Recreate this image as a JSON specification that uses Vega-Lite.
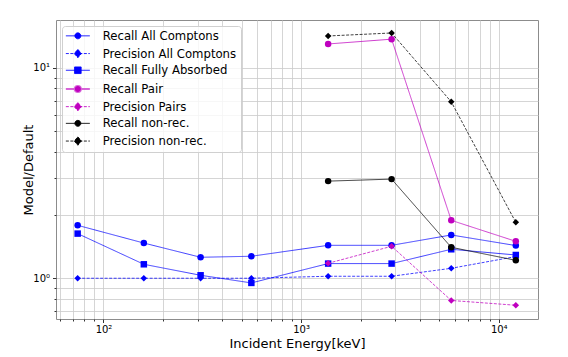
{
  "$schema": "https://vega.github.io/schema/vega-lite/v6.json",
  "autosize": {"type": "none"},
  "padding": {"left": 56, "top": 20, "right": 30, "bottom": 38},
  "width": 482,
  "height": 299,
  "background": "white",
  "config": {
    "font": "DejaVu Sans",
    "view": {"stroke": "#8c8c8c", "strokeWidth": 1},
    "axis": {
      "labelFont": "DejaVu Sans",
      "titleFont": "DejaVu Sans",
      "labelColor": "#000",
      "titleColor": "#000",
      "titleFontWeight": "normal",
      "titleFontSize": 13,
      "labelFontSize": 10,
      "domain": false,
      "grid": true,
      "gridColor": "#cacaca",
      "gridWidth": 0.8,
      "tickColor": "#000",
      "tickWidth": 0.8,
      "labelOverlap": false,
      "labelFlush": false,
      "labelBound": false
    }
  },
  "data": {
    "values": [
      {"series": "Recall All Comptons", "energy": 74, "ratio": 1.785},
      {"series": "Recall All Comptons", "energy": 160, "ratio": 1.47},
      {"series": "Recall All Comptons", "energy": 310, "ratio": 1.258},
      {"series": "Recall All Comptons", "energy": 560, "ratio": 1.272},
      {"series": "Recall All Comptons", "energy": 1370, "ratio": 1.434},
      {"series": "Recall All Comptons", "energy": 2870, "ratio": 1.434},
      {"series": "Recall All Comptons", "energy": 5750, "ratio": 1.606},
      {"series": "Recall All Comptons", "energy": 12200, "ratio": 1.43},
      {"series": "Precision All Comptons", "energy": 74, "ratio": 1.0},
      {"series": "Precision All Comptons", "energy": 160, "ratio": 1.0},
      {"series": "Precision All Comptons", "energy": 310, "ratio": 1.0},
      {"series": "Precision All Comptons", "energy": 560, "ratio": 1.0},
      {"series": "Precision All Comptons", "energy": 1370, "ratio": 1.022},
      {"series": "Precision All Comptons", "energy": 2870, "ratio": 1.022},
      {"series": "Precision All Comptons", "energy": 5750, "ratio": 1.115},
      {"series": "Precision All Comptons", "energy": 12200, "ratio": 1.268},
      {"series": "Recall Fully Absorbed", "energy": 74, "ratio": 1.63},
      {"series": "Recall Fully Absorbed", "energy": 160, "ratio": 1.165},
      {"series": "Recall Fully Absorbed", "energy": 310, "ratio": 1.033},
      {"series": "Recall Fully Absorbed", "energy": 560, "ratio": 0.95},
      {"series": "Recall Fully Absorbed", "energy": 1370, "ratio": 1.174},
      {"series": "Recall Fully Absorbed", "energy": 2870, "ratio": 1.174},
      {"series": "Recall Fully Absorbed", "energy": 5750, "ratio": 1.373},
      {"series": "Recall Fully Absorbed", "energy": 12200, "ratio": 1.29},
      {"series": "Recall Pair", "energy": 1370, "ratio": 13.0},
      {"series": "Recall Pair", "energy": 2870, "ratio": 13.7},
      {"series": "Recall Pair", "energy": 5750, "ratio": 1.885},
      {"series": "Recall Pair", "energy": 12200, "ratio": 1.498},
      {"series": "Precision Pairs", "energy": 1370, "ratio": 1.178},
      {"series": "Precision Pairs", "energy": 2870, "ratio": 1.419},
      {"series": "Precision Pairs", "energy": 5750, "ratio": 0.784},
      {"series": "Precision Pairs", "energy": 12200, "ratio": 0.744},
      {"series": "Recall non-rec.", "energy": 1370, "ratio": 2.896},
      {"series": "Recall non-rec.", "energy": 2870, "ratio": 2.96},
      {"series": "Recall non-rec.", "energy": 5750, "ratio": 1.403},
      {"series": "Recall non-rec.", "energy": 12200, "ratio": 1.217},
      {"series": "Precision non-rec.", "energy": 1370, "ratio": 14.19},
      {"series": "Precision non-rec.", "energy": 2870, "ratio": 14.66},
      {"series": "Precision non-rec.", "energy": 5750, "ratio": 6.9},
      {"series": "Precision non-rec.", "energy": 12200, "ratio": 1.844}
    ]
  },
  "encoding": {
    "x": {
      "field": "energy",
      "type": "quantitative",
      "scale": {"type": "log", "domain": [57.5, 15800], "nice": false},
      "axis": {
        "title": "Incident Energy[keV]",
        "values": [60, 70, 80, 90, 100, 200, 300, 400, 500, 600, 700, 800, 900, 1000, 2000, 3000, 4000, 5000, 6000, 7000, 8000, 9000, 10000],
        "labelExpr": "datum.value == 100 ? '10²' : datum.value == 1000 ? '10³' : datum.value == 10000 ? '10⁴' : ''",
        "tickSize": {"condition": {"test": "datum.value == 100 || datum.value == 1000 || datum.value == 10000", "value": 3.5}, "value": 2},
        "labelPadding": 2,
        "titlePadding": 3
      }
    },
    "y": {
      "field": "ratio",
      "type": "quantitative",
      "scale": {"type": "log", "domain": [0.64, 16.9], "nice": false},
      "axis": {
        "title": "Model/Default",
        "values": [0.7, 0.8, 0.9, 1, 2, 3, 4, 5, 6, 7, 8, 9, 10],
        "labelExpr": "datum.value == 1 ? '10⁰' : datum.value == 10 ? '10¹' : ''",
        "tickSize": {"condition": {"test": "datum.value == 1 || datum.value == 10", "value": 3.5}, "value": 2},
        "labelPadding": 3,
        "titlePadding": -3
      }
    },
    "color": {
      "field": "series",
      "type": "nominal",
      "scale": {
        "domain": ["Recall All Comptons", "Precision All Comptons", "Recall Fully Absorbed", "Recall Pair", "Precision Pairs", "Recall non-rec.", "Precision non-rec."],
        "range": ["#0000ff", "#0000ff", "#0000ff", "#bf00bf", "#bf00bf", "#000000", "#000000"]
      },
      "legend": {
        "title": null,
        "orient": "top-left",
        "offset": 6,
        "padding": 4,
        "labelFont": "DejaVu Sans",
        "labelFontSize": 11.7,
        "labelColor": "#000",
        "labelOffset": 25,
        "rowPadding": 3.7,
        "fillColor": "rgba(255,255,255,0.8)",
        "strokeColor": "#d0d0d0",
        "cornerRadius": 3,
        "symbolLimit": 0,
        "encode": {
          "symbols": {
            "update": {
              "shape": {"signal": "(datum.value == 'Recall All Comptons' || datum.value == 'Recall Pair' || datum.value == 'Recall non-rec.') ? 'M-1,0L3,0M0.5,0A0.5,0.5 0 1,0 1.5,0A0.5,0.5 0 1,0 0.5,0Z' : datum.value == 'Recall Fully Absorbed' ? 'M-1,0L3,0M0.45,-0.55L1.55,-0.55L1.55,0.55L0.45,0.55Z' : 'M-1,0L3,0M1,-0.7L1.6,0L1,0.7L0.4,0Z'"},
              "strokeDash": {"signal": "(datum.value == 'Precision All Comptons' || datum.value == 'Precision Pairs' || datum.value == 'Precision non-rec.') ? [3, 1.5] : []"},
              "fill": {"signal": "scale('color', datum.value)"},
              "stroke": {"signal": "scale('color', datum.value)"},
              "fillOpacity": {"value": 1},
              "opacity": {"value": 1},
              "strokeOpacity": {"signal": "datum.value == 'Recall Pair' ? 0.6 : 0.85"},
              "strokeWidth": {"signal": "datum.value == 'Recall Pair' ? 2 : 1"},
              "size": {"value": 144}
            }
          }
        }
      }
    }
  },
  "layer": [
    {
      "mark": {"type": "line", "strokeWidth": 1, "strokeOpacity": 0.75},
      "encoding": {
        "strokeDash": {
          "field": "series",
          "type": "nominal",
          "scale": {
            "domain": ["Precision All Comptons", "Recall All Comptons", "Recall Fully Absorbed", "Recall Pair", "Precision Pairs", "Recall non-rec.", "Precision non-rec."],
            "range": [[3, 1.5], [1, 0], [1, 0], [1, 0], [3, 1.5], [1, 0], [3, 1.5]]
          },
          "legend": null
        }
      }
    },
    {
      "mark": {"type": "point", "filled": true, "opacity": 1},
      "encoding": {
        "shape": {
          "field": "series",
          "type": "nominal",
          "scale": {
            "domain": ["Recall Fully Absorbed", "Recall All Comptons", "Precision All Comptons", "Recall Pair", "Precision Pairs", "Recall non-rec.", "Precision non-rec."],
            "range": ["square", "circle", "diamond", "circle", "diamond", "circle", "diamond"]
          },
          "legend": null
        },
        "size": {
          "field": "series",
          "type": "nominal",
          "scale": {
            "domain": ["Recall Pair", "Recall All Comptons", "Precision All Comptons", "Recall Fully Absorbed", "Precision Pairs", "Recall non-rec.", "Precision non-rec."],
            "range": [42, 42, 64, 42, 64, 42, 64]
          },
          "legend": null
        }
      }
    }
  ]
}
